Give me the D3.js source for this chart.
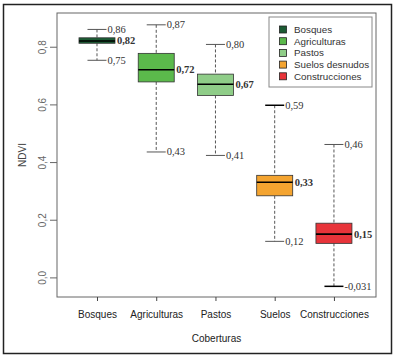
<!DOCTYPE html>
<html><head>
<meta charset="utf-8">
<script src="https://d3js.org/d3.v7.min.js"></script>
<style>
  body { margin: 0; background: #fff; }
  .tick text { font-family: "Liberation Sans", Arial, sans-serif; }
  .vlab { font-family: "Liberation Serif", "Times New Roman", serif; font-size: 10.5px; fill: #333; }
</style>
</head>
<body>
<svg id="chart" width="397" height="360"></svg>
<script>
// data
const categories = ["Bosques", "Agriculturas", "Pastos", "Suelos", "Construcciones"];
const legendLabels = ["Bosques", "Agriculturas", "Pastos", "Suelos desnudos", "Construcciones"];
const colors = ["#1b5b33", "#5bb94b", "#8fcd88", "#f4a430", "#e8343a"];
const whiskerLow = [0.753, 0.435, 0.423, 0.125, -0.031];
const q1 = [0.812, 0.678, 0.631, 0.283, 0.118];
const medians = [0.82, 0.72, 0.67, 0.33, 0.15];
const q3 = [0.831, 0.777, 0.705, 0.354, 0.188];
const whiskerHigh = [0.86, 0.876, 0.808, 0.597, 0.461];
const lowLabels = ["0,75", "0,43", "0,41", "0,12", "-0,031"];
const medLabels = ["0,82", "0,72", "0,67", "0,33", "0,15"];
const highLabels = ["0,86", "0,87", "0,80", "0,59", "0,46"];
const yTicks = [0, 0.2, 0.4, 0.6, 0.8];

const svg = d3.select("#chart");
const plot = { left: 57, right: 376, top: 13, bottom: 297 };

const x = d3.scaleLinear().domain([0.325, 5.71]).range([plot.left, plot.right]);
const y = d3.scaleLinear().domain([-0.068, 0.917]).range([plot.bottom, plot.top]);
const fmt = d => d3.format(".1f")(d).replace(".", ",");

// outer frame
svg.append("rect").attr("x", 3.5).attr("y", 4.5).attr("width", 388).attr("height", 349)
  .attr("fill", "none").attr("stroke", "#222").attr("stroke-width", 1.5);

// plot border
svg.append("rect").attr("x", plot.left).attr("y", plot.top)
  .attr("width", plot.right - plot.left).attr("height", plot.bottom - plot.top)
  .attr("fill", "none").attr("stroke", "#666").attr("stroke-width", 1);

// y axis
const yAxis = svg.append("g").attr("transform", "translate(" + plot.left + ",0)")
  .call(d3.axisLeft(y).tickValues(yTicks).tickSize(7).tickFormat(fmt));
yAxis.select(".domain").remove();
yAxis.selectAll(".tick line").attr("stroke", "#666");
yAxis.selectAll(".tick text")
  .attr("font-size", 10).attr("fill", "#666")
  .attr("text-anchor", "middle").attr("x", 0).attr("dy", 0)
  .attr("transform", "translate(-14,0) rotate(-90)")
  .attr("dominant-baseline", "middle");

// x axis
const xAxis = svg.append("g").attr("transform", "translate(0," + plot.bottom + ")")
  .call(d3.axisBottom(x).tickValues(d3.range(1, 6)).tickSize(4).tickFormat(d => categories[d - 1]));
xAxis.select(".domain").remove();
xAxis.selectAll(".tick line").attr("stroke", "#444");
xAxis.selectAll(".tick text").attr("font-size", 10).attr("fill", "#222").attr("y", 14);

// axis titles
svg.append("text").attr("x", (plot.left + plot.right) / 2).attr("y", 342)
  .attr("text-anchor", "middle").attr("font-family", "Liberation Sans, Arial, sans-serif")
  .attr("font-size", 10).attr("fill", "#222").text("Coberturas");
svg.append("text").attr("transform", "translate(26,155) rotate(-90)")
  .attr("text-anchor", "middle").attr("font-family", "Liberation Sans, Arial, sans-serif")
  .attr("font-size", 10).attr("fill", "#444").text("NDVI");

// boxes
const boxW = 36, capW = 19;
const g = svg.selectAll("g.box").data(categories).join("g").attr("class", "box");

g.append("line") // upper whisker
  .attr("x1", (d, i) => x(i + 1)).attr("x2", (d, i) => x(i + 1))
  .attr("y1", (d, i) => y(whiskerHigh[i])).attr("y2", (d, i) => y(q3[i]))
  .attr("stroke", "#555").attr("stroke-dasharray", "3,2");
g.append("line") // lower whisker
  .attr("x1", (d, i) => x(i + 1)).attr("x2", (d, i) => x(i + 1))
  .attr("y1", (d, i) => y(q1[i])).attr("y2", (d, i) => y(whiskerLow[i]))
  .attr("stroke", "#555").attr("stroke-dasharray", "3,2");

// caps (suelos top and construcciones bottom look darker)
g.append("line")
  .attr("x1", (d, i) => x(i + 1) - capW / 2).attr("x2", (d, i) => x(i + 1) + capW / 2)
  .attr("y1", (d, i) => y(whiskerHigh[i])).attr("y2", (d, i) => y(whiskerHigh[i]))
  .attr("stroke", (d, i) => i === 3 ? "#000" : "#555")
  .attr("stroke-width", (d, i) => i === 3 ? 1.5 : 1);
g.append("line")
  .attr("x1", (d, i) => x(i + 1) - capW / 2).attr("x2", (d, i) => x(i + 1) + capW / 2)
  .attr("y1", (d, i) => y(whiskerLow[i])).attr("y2", (d, i) => y(whiskerLow[i]))
  .attr("stroke", (d, i) => i === 4 ? "#000" : "#555")
  .attr("stroke-width", (d, i) => i === 4 ? 1.5 : 1);

g.append("rect")
  .attr("x", (d, i) => x(i + 1) - boxW / 2).attr("width", boxW)
  .attr("y", (d, i) => y(q3[i])).attr("height", (d, i) => y(q1[i]) - y(q3[i]))
  .attr("fill", (d, i) => colors[i]).attr("stroke", "#333").attr("stroke-width", 0.8);
g.append("line") // median
  .attr("x1", (d, i) => x(i + 1) - boxW / 2).attr("x2", (d, i) => x(i + 1) + boxW / 2)
  .attr("y1", (d, i) => y(medians[i])).attr("y2", (d, i) => y(medians[i]))
  .attr("stroke", "#000").attr("stroke-width", 1.6);

// value labels
g.append("text").attr("class", "vlab")
  .attr("x", (d, i) => x(i + 1) + capW / 2 + 1).attr("y", (d, i) => y(whiskerHigh[i]))
  .attr("dy", "0.33em").text((d, i) => highLabels[i]);
g.append("text").attr("class", "vlab")
  .attr("x", (d, i) => x(i + 1) + capW / 2 + 1).attr("y", (d, i) => y(whiskerLow[i]))
  .attr("dy", "0.33em").text((d, i) => lowLabels[i]);
g.append("text").attr("class", "vlab")
  .attr("x", (d, i) => x(i + 1) + boxW / 2 + 2).attr("y", (d, i) => y(medians[i]))
  .attr("dy", "0.33em").attr("font-weight", "bold").attr("fill", "#111")
  .text((d, i) => medLabels[i]);

// legend
const legend = svg.append("g").attr("transform", "translate(269,17)");
legend.append("rect").attr("width", 103).attr("height", 70)
  .attr("fill", "#fff").attr("stroke", "#888");
const items = legend.selectAll("g.item").data(legendLabels).join("g")
  .attr("class", "item")
  .attr("transform", (d, i) => "translate(0," + (12.5 + i * 11.7) + ")");
items.append("rect").attr("x", 10.5).attr("y", -3.5).attr("width", 7).attr("height", 7)
  .attr("fill", (d, i) => colors[i]).attr("stroke", "#222").attr("stroke-width", 0.8);
items.append("text").attr("x", 25).attr("dy", "0.35em")
  .attr("font-family", "Liberation Sans, Arial, sans-serif").attr("font-size", 9.8)
  .attr("fill", "#333").text(d => d);
</script>
</body>
</html>
